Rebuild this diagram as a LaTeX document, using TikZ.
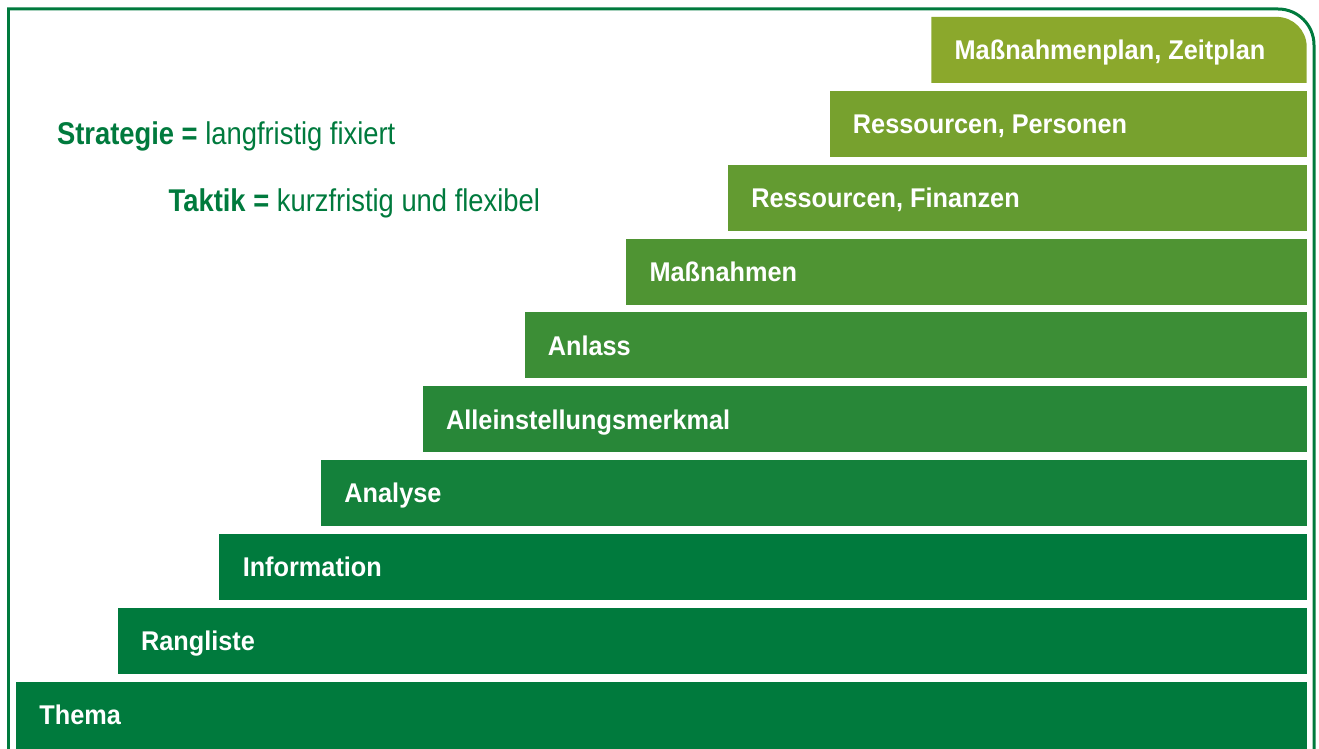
\documentclass[tikz,border=0pt]{standalone}
\usepackage{fontspec}
\setmainfont[FakeStretch=0.87]{Liberation Sans}
\newfontfamily\stairfont[FakeStretch=0.935]{Liberation Sans}
\usepackage{xcolor}
\usepackage{tikz}
\usetikzlibrary{positioning}
\definecolor{stairdark}{RGB}{0,122,61}
\definecolor{stairlight}{RGB}{139,168,44}
\tikzset{
    frame line/.style={stairdark, line width=0.06cm},
    stair/.style={fill=#1, draw=none},
    stair label/.style={anchor=base west, inner sep=0pt, text=white,
        font=\stairfont\bfseries\fontsize{15.4}{18}\selectfont},
    note label/.style={anchor=base west, inner sep=0pt, text=stairdark,
        font=\fontsize{17.9}{21}\selectfont},
}

\begin{document}
\begin{tikzpicture}[x=0.02cm, y=-0.02cm]
    \useasboundingbox (0,0) rectangle (1319,749);

    % outer frame, open at the bottom
    \draw[frame line] (8.5,749) -- (8.5,9) -- (1278,9)
        arc[start angle=90, end angle=0, radius=0.72cm] -- (1314,749);

    % the steps, from the bottom up
    \foreach \lbl [count=\i from 0,
            evaluate=\i as \pct using {max(0,(\i-2)/7*100)},
            evaluate=\i as \xl using {16+101.7*\i},
            evaluate=\i as \yt using {682-73.9*\i}] in
        {Thema, Rangliste, Information, Analyse, Alleinstellungsmerkmal,
         Anlass, Maßnahmen, {Ressourcen, Finanzen}, {Ressourcen, Personen},
         {Maßnahmenplan, Zeitplan}} {
        \colorlet{stepfill}{stairlight!\pct!stairdark}
        \ifnum\i=9
            \fill[stair=stepfill] (\xl,\yt+66) -- (\xl,\yt) -- (1276.7,\yt)
                arc[start angle=90, end angle=0, radius=0.6cm]
                -- (1306.7,\yt+66) -- cycle;
        \else
            \ifnum\i=0
                \fill[stair=stepfill] (\xl,\yt) rectangle (1306.7,749);
            \else
                \fill[stair=stepfill] (\xl,\yt) rectangle (1306.7,\yt+66);
            \fi
        \fi
        \node[stair label] (step\i) at (\xl+23,\yt+42.7) {\lbl};
    }

    \node[note label] (strategy) at (56.7,145)
        {\textbf{Strategie =} langfristig fixiert};
    \node[note label] (tactic) at (168.3,212)
        {\textbf{Taktik =} kurzfristig und flexibel};
\end{tikzpicture}
\end{document}
